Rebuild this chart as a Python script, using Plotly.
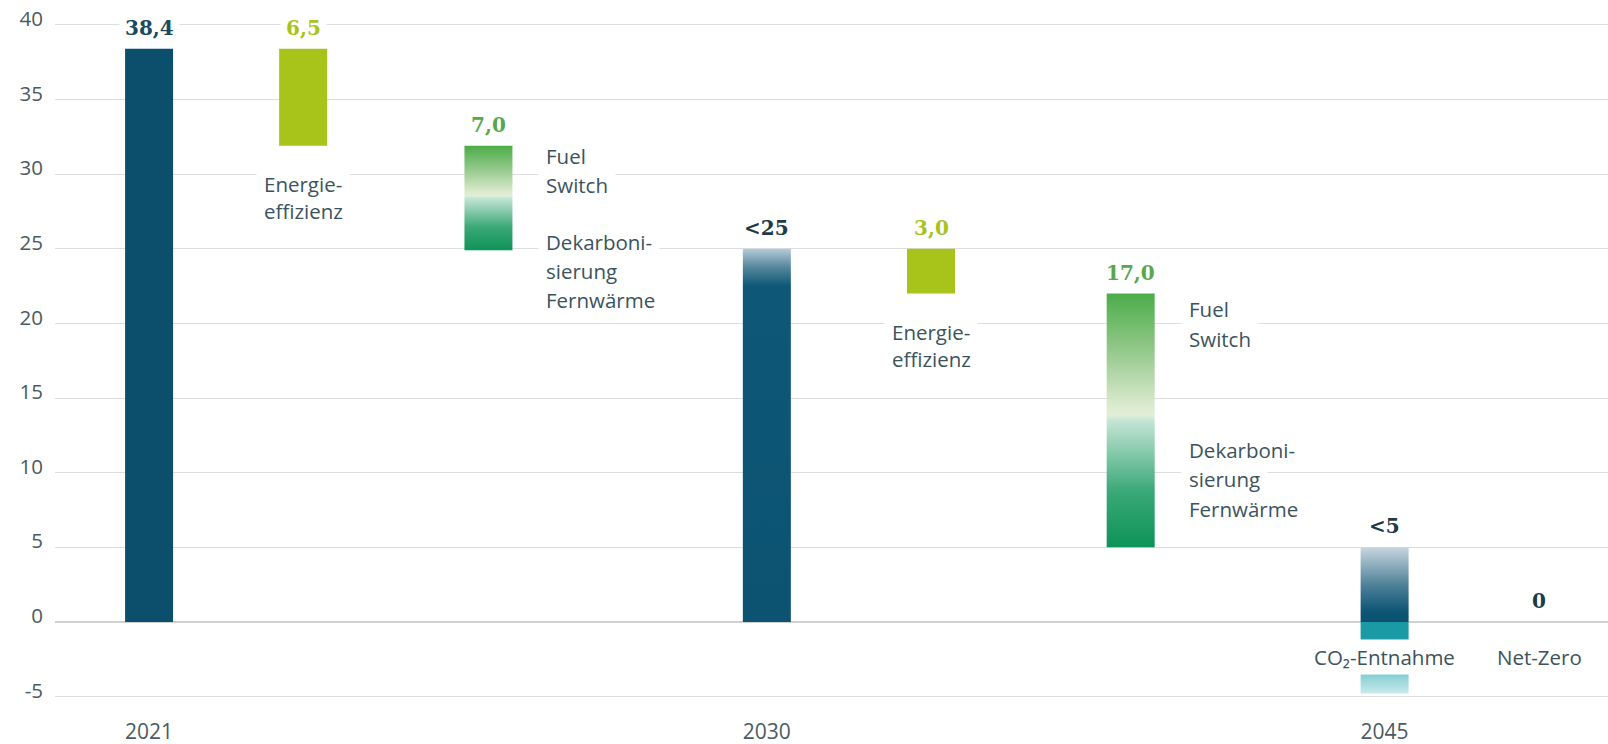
import plotly.graph_objects as go

# ---------------- data ----------------
steps = ["2021", "Energieeffizienz", "Fuel Switch", "2030",
         "Energieeffizienz", "Fuel Switch", "2045", "Net-Zero"]
kinds = ["total", "delta", "delta", "total", "delta", "delta", "total", "total"]
values = [38.4, -6.5, -7.0, 25.0, -3.0, -17.0, 5.0, 0.0]
value_labels = ["38,4", "6,5", "7,0", "<25", "3,0", "17,0", "<5", "0"]
x_slot = [1.96, 5.17, 9.03, 14.83, 18.25, 22.41, 27.70, 30.92]
co2_removal = -4.8
year_ticks = ["2021", "2030", "2045"]
year_slots = [x_slot[0], x_slot[3], x_slot[6]]

ee_label = ["Energie-", "effizienz"]
fs_label = ["Fuel", "Switch", "Dekarboni-", "sierung", "Fernwärme"]
co2_label = "CO₂-Entnahme"
nz_label = "Net-Zero"

y_ticks = [-5, 0, 5, 10, 15, 20, 25, 30, 35, 40]
y_ticktext = ["-5", "0", "5", "10", "15", "20", "25", "30", "35", "40"]

# ---------------- styles ----------------
NAVY = "#0b4f6c"
LIME = "#a8c31a"
GREEN_TXT = "#55a84c"
TXT = "#3b535d"
TICK = "#4b5b61"
BAR_W = 1.0
SANS = "Open Sans"
SERIF = "DejaVu Serif"
TXT_SIZE = 20.5

green_scale = [[0, "#0e9357"], [0.22, "#3aa877"], [0.5, "#c4e5d6"], [0.52, "#e2eed8"],
               [0.56, "#dbeace"], [0.78, "#92c88a"], [1, "#4cad48"]]
navy25_scale = [[0, "#0c5372"], [0.9, "#0e5776"], [0.95, "#55869c"], [1, "#b5cbd7"]]
navy5_scale = [[0, "#0c5170"], [0.14, "#0d5574"], [0.5, "#4f8299"], [1, "#c7d6df"]]
co2_scale = [[0, "#c9eaec"], [0.3, "#7ccbcf"], [0.72, "#2aa6ae"], [0.79, "#1a9aa4"], [1, "#1a9aa4"]]

styles = [("solid", NAVY), ("solid", LIME), ("grad", green_scale), ("grad", navy25_scale),
          ("solid", LIME), ("grad", green_scale), ("grad", navy5_scale), (None, None)]
label_colors = ["#1a4a60", LIME, GREEN_TXT, "#1d3a48", LIME, GREEN_TXT, "#1d3a48", "#1d3a48"]

# ---------------- geometry from data ----------------
bottoms, tops = [], []
level = 0.0
for k, v in zip(kinds, values):
    if k == "total":
        b, t = 0.0, v
        level = v
    else:
        t = level
        b = level + v
        level = b
    bottoms.append(b)
    tops.append(t)

fig = go.Figure()


def grad_rect(xc, b, t, scale):
    x0, x1 = xc - BAR_W / 2, xc + BAR_W / 2
    fig.add_trace(go.Scatter(
        x=[x0, x1, x1, x0, x0], y=[b, b, t, t, b], mode="lines",
        line=dict(width=0, color="rgba(0,0,0,0)"), fill="toself",
        fillgradient=dict(type="vertical", colorscale=scale, start=b, stop=t),
        hoverinfo="skip", showlegend=False))


for i, (st, col) in enumerate(styles):
    if st is None:
        continue
    if st == "solid":
        fig.add_trace(go.Bar(x=[x_slot[i]], y=[tops[i] - bottoms[i]], base=[bottoms[i]],
                             width=BAR_W, marker=dict(color=col, line=dict(width=0)),
                             hoverinfo="skip", showlegend=False))
    else:
        grad_rect(x_slot[i], bottoms[i], tops[i], col)

# CO2 removal bar at 2045
grad_rect(x_slot[6], co2_removal, 0.0, co2_scale)

# text items: (x, y, xshift, yshift, text, xanchor, font, pad)
txt_font = dict(family=SANS, size=TXT_SIZE, color=TXT)
items = []
for i, lab in enumerate(value_labels):
    items.append((x_slot[i], tops[i], 0, 21, lab, "center",
                  dict(family=SERIF, size=20, color=label_colors[i], weight="bold"), 5))
for i in (1, 4):
    for line, dy in zip(ee_label, [-38, -65]):
        items.append((x_slot[i], bottoms[i], 0, dy, line, "center", txt_font, 7))
fs_text_y = {2: [31.22, 29.25, 25.46, 23.52, 21.58], 5: [20.97, 18.96, 11.52, 9.55, 7.57]}
for i, ys in fs_text_y.items():
    for line, yy in zip(fs_label, ys):
        items.append((x_slot[i], yy, 50, 0, line, "left", txt_font, 7))
items.append((x_slot[6], -2.35, 0, 0, co2_label, "center", txt_font, 3))
items.append((x_slot[7], -2.35, 0, 0, nz_label, "center", txt_font, 3))

annotations = []
# white background boxes first (break the gridlines), then the texts on top
for (x, y, xs, ys, text, xa, font, pad) in items:
    f = dict(font)
    f["color"] = "white"
    annotations.append(dict(x=x, y=y, xshift=xs, yshift=ys, text=text, showarrow=False,
                            xanchor=xa, yanchor="middle", bgcolor="white", borderpad=pad,
                            font=f))
for (x, y, xs, ys, text, xa, font, pad) in items:
    annotations.append(dict(x=x, y=y, xshift=xs, yshift=ys, text=text, showarrow=False,
                            xanchor=xa, yanchor="middle", borderpad=pad, font=font))

fig.update_layout(
    width=1608, height=744,
    margin=dict(l=55, r=0, t=10, b=40),
    paper_bgcolor="white", plot_bgcolor="white",
    template="none",
    showlegend=False,
    barmode="overlay",
    annotations=annotations,
    font=dict(family=SANS, color=TXT),
)
fig.update_xaxes(range=[0, 32.354], tickvals=year_slots, ticktext=year_ticks,
                 showgrid=False, zeroline=False, showline=False, ticks="",
                 ticklabelstandoff=13, automargin=False,
                 tickfont=dict(family=SANS, size=21, color=TICK))
fig.update_yaxes(range=[-5.5, 41.0], tickvals=y_ticks, ticktext=y_ticktext,
                 showgrid=True, gridcolor="#dedede", gridwidth=1,
                 zeroline=True, zerolinecolor="#d0d0d0", zerolinewidth=1.5,
                 showline=False, ticks="", ticklabelstandoff=11, ticklabelshift=-6,
                 automargin=False,
                 tickfont=dict(family=SANS, size=20.5, color=TICK))

fig.write_html("out.html", config={"displayModeBar": False},
               post_script="document.body.style.margin='0';document.body.style.overflow='hidden';")
